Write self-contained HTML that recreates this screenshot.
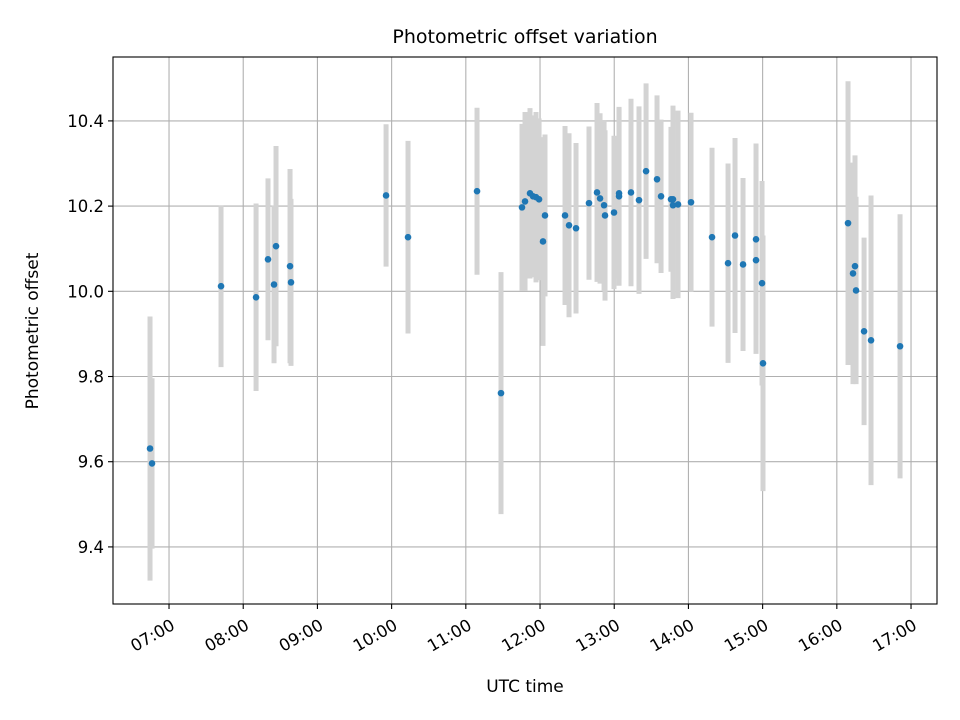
<!DOCTYPE html>
<html><head><meta charset="utf-8"><style>
body{margin:0;background:#fff}
svg{display:block;font-family:"DejaVu Sans","Liberation Sans",sans-serif}
</style></head><body>
<svg id="chart" width="960" height="720" xmlns="http://www.w3.org/2000/svg">
<rect width="960" height="720" fill="#fff"/>
<text x="525" y="43" text-anchor="middle" font-size="19">Photometric offset variation</text>
<g id="grid"></g><g id="bars"></g><g id="pts"></g>
<rect x="113" y="57" width="824" height="547" fill="none" stroke="#000" stroke-width="1.1"/>
<g id="axes"></g>
<text x="525" y="692" text-anchor="middle" font-size="17">UTC time</text>
<text transform="translate(38,331) rotate(-90)" text-anchor="middle" font-size="17">Photometric offset</text>
</svg>
<script>
const times=[6.744,6.771,7.701,8.173,8.334,8.442,8.415,8.631,8.644,9.925,10.221,11.151,11.474,11.757,11.798,11.865,11.906,11.946,11.987,12.067,12.040,12.337,12.391,12.485,12.660,12.768,12.809,12.863,12.876,12.997,13.065,13.065,13.226,13.334,13.429,13.577,13.631,13.765,13.792,13.792,13.860,14.035,14.318,14.534,14.628,14.736,14.911,14.911,14.992,15.005,16.151,16.245,16.218,16.259,16.367,16.461,16.852];
const values=[9.631,9.596,10.012,9.986,10.075,10.106,10.016,10.059,10.021,10.225,10.127,10.235,9.761,10.197,10.211,10.230,10.223,10.221,10.216,10.178,10.117,10.178,10.155,10.148,10.207,10.232,10.218,10.202,10.178,10.185,10.223,10.230,10.232,10.214,10.282,10.263,10.223,10.216,10.216,10.202,10.204,10.209,10.127,10.066,10.131,10.063,10.122,10.073,10.019,9.831,10.160,10.059,10.042,10.002,9.906,9.885,9.871];
const errors=[0.31,0.20,0.19,0.22,0.19,0.235,0.185,0.228,0.196,0.167,0.226,0.196,0.284,0.196,0.21,0.20,0.19,0.20,0.19,0.19,0.245,0.21,0.216,0.20,0.18,0.21,0.20,0.20,0.20,0.18,0.21,0.20,0.22,0.22,0.206,0.197,0.18,0.17,0.22,0.22,0.22,0.21,0.21,0.234,0.229,0.203,0.225,0.22,0.24,0.30,0.333,0.26,0.26,0.22,0.22,0.34,0.31];
const xTicks=[7,8,9,10,11,12,13,14,15,16,17];
const yTicks=[9.4,9.6,9.8,10.0,10.2,10.4];
const X0=113,X1=937,Y0=57,Y1=604,XMIN=6.245,XMAX=17.35,YMIN=9.266,YMAX=10.55;
const sx=t=>X0+(t-XMIN)/(XMAX-XMIN)*(X1-X0);
const sy=v=>Y1-(v-YMIN)/(YMAX-YMIN)*(Y1-Y0);
const NS="http://www.w3.org/2000/svg";
function mk(tag,parent,attrs){const e=document.createElementNS(NS,tag);for(const k in attrs)e.setAttribute(k,attrs[k]);document.getElementById(parent).appendChild(e);return e;}
xTicks.forEach(t=>{
  const x=sx(t);
  const g=mk('line','grid',{x1:x,x2:x,y1:Y0,y2:Y1,stroke:'#b0b0b0','stroke-width':1.1});
  
  
  const tk=mk('line','axes',{x1:x,x2:x,y1:Y1,y2:Y1+5,stroke:'#000','stroke-width':1.1});
  
  
  const lb=mk('text','axes',{transform:`translate(${x+1},${Y1+14}) rotate(-30)`,'text-anchor':'end','dominant-baseline':'hanging','font-size':16.5});
  lb.textContent=String(t).padStart(2,'0')+':00';
  
  
});
yTicks.forEach(v=>{
  const y=sy(v);
  const g=mk('line','grid',{x1:X0,x2:X1,y1:y,y2:y,stroke:'#b0b0b0','stroke-width':1.1});
  
  
  const tk=mk('line','axes',{x1:X0-5,x2:X0,y1:y,y2:y,stroke:'#000','stroke-width':1.1});
  
  
  const lb=mk('text','axes',{x:X0-9,y:y+6,'text-anchor':'end','font-size':16.5});
  lb.textContent=v.toFixed(1);
  
  
});
times.forEach((t,i)=>{
  const x=sx(t);
  const b=mk('line','bars',{x1:x,x2:x,y1:sy(values[i]+errors[i]),y2:sy(values[i]-errors[i]),stroke:'#d3d3d3','stroke-width':5});
  
  
});
times.forEach((t,i)=>{
  const c=mk('circle','pts',{cx:sx(t),cy:sy(values[i]),r:3.3,fill:'#1f77b4'});
  
  
});
</script>
</body></html>
